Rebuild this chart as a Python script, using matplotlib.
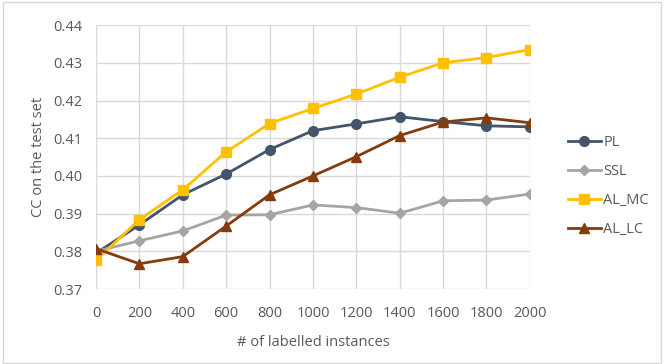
import matplotlib
matplotlib.use("Agg")
import matplotlib.pyplot as plt
from matplotlib.patches import Rectangle

# data
sizes = [0, 200, 400, 600, 800, 1000, 1200, 1400, 1600, 1800, 2000]
pl = [0.3795, 0.3870, 0.3950, 0.4005, 0.4070, 0.4120, 0.4138, 0.4157, 0.4144, 0.4133, 0.4130]
ssl = [0.3800, 0.3828, 0.3854, 0.3896, 0.3897, 0.3923, 0.3916, 0.3901, 0.3934, 0.3936, 0.3952]
al_mc = [0.3776, 0.3884, 0.3963, 0.4064, 0.4139, 0.4179, 0.4217, 0.4262, 0.4300, 0.4314, 0.4335]
al_lc = [0.3807, 0.3767, 0.3786, 0.3867, 0.3950, 0.4000, 0.4051, 0.4107, 0.4143, 0.4154, 0.4141]
y_ticks = [0.37, 0.38, 0.39, 0.40, 0.41, 0.42, 0.43, 0.44]

plt.rcParams['font.family'] = ['Open Sans', 'DejaVu Sans']
txt = '#595959'
grid = '#D9D9D9'

fig = plt.figure(figsize=(6.64, 3.64), dpi=100)
fig.patches.append(Rectangle((0.004, 0.004), 0.992, 0.99, transform=fig.transFigure,
                             fill=False, edgecolor=grid, lw=1))
ax = fig.add_axes([0.1446, 0.206, 0.6534, 0.725])

ax.plot(sizes, pl, color='#44546A', marker='o', ms=7, lw=2, label='PL')
ax.plot(sizes, ssl, color='#A5A5A5', marker='D', ms=5, lw=2, label='SSL')
ax.plot(sizes, al_mc, color='#FFC000', marker='s', ms=7, lw=2, label='AL_MC')
ax.plot(sizes, al_lc, color='#843C0C', marker='^', ms=7, lw=2, label='AL_LC')

ax.set_xlim(0, 2000)
ax.set_ylim(0.37, 0.44)
ax.set_xticks(sizes)
ax.set_yticks(y_ticks)
ax.set_yticklabels([f'{v:.2f}' for v in y_ticks])
ax.grid(True, color=grid, lw=1)
ax.set_axisbelow(True)
for s in ax.spines.values():
    s.set_visible(False)
ax.tick_params(length=0, colors=txt, labelsize=10.5)
ax.tick_params(axis='y', pad=10)
ax.tick_params(axis='x', pad=12)
ax.set_xlabel('# of labelled instances', color=txt, fontsize=10.5)
ax.set_ylabel('CC on the test set', color=txt, fontsize=10.5)
ax.yaxis.set_label_coords(-0.115, 0.5)
ax.xaxis.set_label_coords(0.5, -0.174)

leg = fig.legend(loc='center left', bbox_to_anchor=(0.855, 0.489), frameon=False,
                 fontsize=10.5, labelspacing=0.95, handlelength=2.3, handletextpad=0.15,
                 borderaxespad=0, borderpad=0)
for t in leg.get_texts():
    t.set_color(txt)

fig.savefig('out.png', dpi=100)
